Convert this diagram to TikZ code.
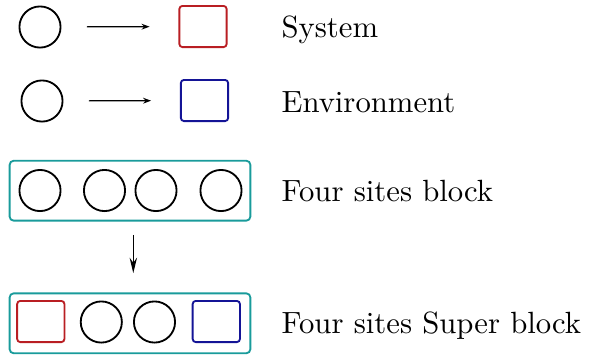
\documentclass[tikz,border=0pt]{standalone}
\usetikzlibrary{arrows.meta}
\definecolor{sysred}{RGB}{185,30,35}
\definecolor{envblue}{RGB}{20,20,150}
\definecolor{blockteal}{RGB}{25,155,155}
\begin{document}
\begin{tikzpicture}[x=0.3257pt,y=-0.3257pt,
  site/.style={circle,draw=black,semithick,inner sep=0pt,minimum size=13.4pt},
  sysbox/.style={draw=sysred,semithick,rounded corners=1pt,inner sep=0pt,minimum width=15.4pt,minimum height=13.4pt},
  envbox/.style={draw=envblue,semithick,rounded corners=1pt,inner sep=0pt,minimum width=15.4pt,minimum height=13.4pt},
  blockbox/.style={draw=blockteal,semithick,rounded corners=1.3pt,inner sep=0pt,minimum width=78.4pt,minimum height=19.5pt},
  legend/.style={anchor=base west,inner sep=0pt},
  harrow/.style={-{Stealth[length=2.6pt,width=1.9pt]}},
  varrow/.style={-{Stealth[length=5pt,width=2.4pt]}}]
\useasboundingbox (0,0) rectangle (591,354);

% System row
\node[site] (s1) at (40,27) {};
\node[sysbox] (sys) at (203,26.5) {};
\draw[harrow,shorten <=8.3pt,shorten >=9.4pt] (s1) -- (sys);
\node[legend] (tsys) at (281,37.3) {System};

% Environment row
\node[site] (e1) at (42,101) {};
\node[envbox] (env) at (204.5,100.5) {};
\draw[harrow,shorten <=8.3pt,shorten >=9.4pt] (e1) -- (env);
\node[legend] (tenv) at (281,112) {Environment};

% Four sites block
\node[blockbox] (blk) at (130,190.7) {};
\node[site] (b1) at (40,190.5) {};
\node[site] (b2) at (104.5,190.5) {};
\node[site] (b3) at (156,190.5) {};
\node[site] (b4) at (221,190.5) {};
\node[legend] (tblk) at (281,201.7) {Four sites block};

% Four sites super block
\node[blockbox] (sblk) at (130,323.3) {};
\node[sysbox] (sb1) at (40.8,321.5) {};
\node[site] (sb2) at (101.3,322) {};
\node[site] (sb3) at (154.5,322) {};
\node[envbox] (sb4) at (216.3,321.5) {};
\node[legend] (tsblk) at (281,333.3) {Four sites Super block};

\draw[varrow,shorten <=4.3pt,shorten >=6.3pt] (blk.south -| 133.3,0) -- (sblk.north -| 133.3,0);
\end{tikzpicture}
\end{document}
